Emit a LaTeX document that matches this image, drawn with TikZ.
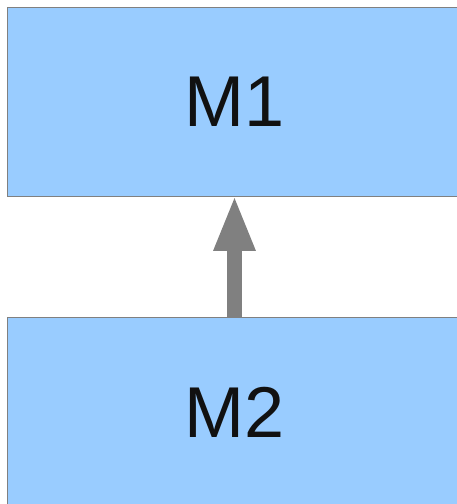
\documentclass[tikz,border=0pt]{standalone}
\usepackage{fontspec}
\setmainfont{Liberation Sans}
\usetikzlibrary{arrows.meta}
\definecolor{boxfill}{HTML}{99CCFF}
\definecolor{boxline}{HTML}{808080}
\definecolor{arrowgray}{HTML}{808080}
\definecolor{labeltext}{HTML}{111111}
\begin{document}
\begin{tikzpicture}[x=1pt,y=1pt,
  module/.style={draw=boxline, fill=boxfill, line width=0.8pt,
    minimum width=454pt, minimum height=189pt, inner sep=0pt,
    font=\fontsize{72}{72}\selectfont, text=labeltext},
  dependency/.style={draw=arrowgray, line width=15pt, shorten >=-1.5pt,
    -{Triangle[width=38pt,length=56pt]}}]
  \useasboundingbox (0,0) rectangle (456,504);
  \node[module] (m1) at (234.5,402.5) {M1};
  \node[module] (m2) at (234.5,92) {M2};
  \draw[dependency] (m2.north) -- (m1.south);
\end{tikzpicture}
\end{document}
